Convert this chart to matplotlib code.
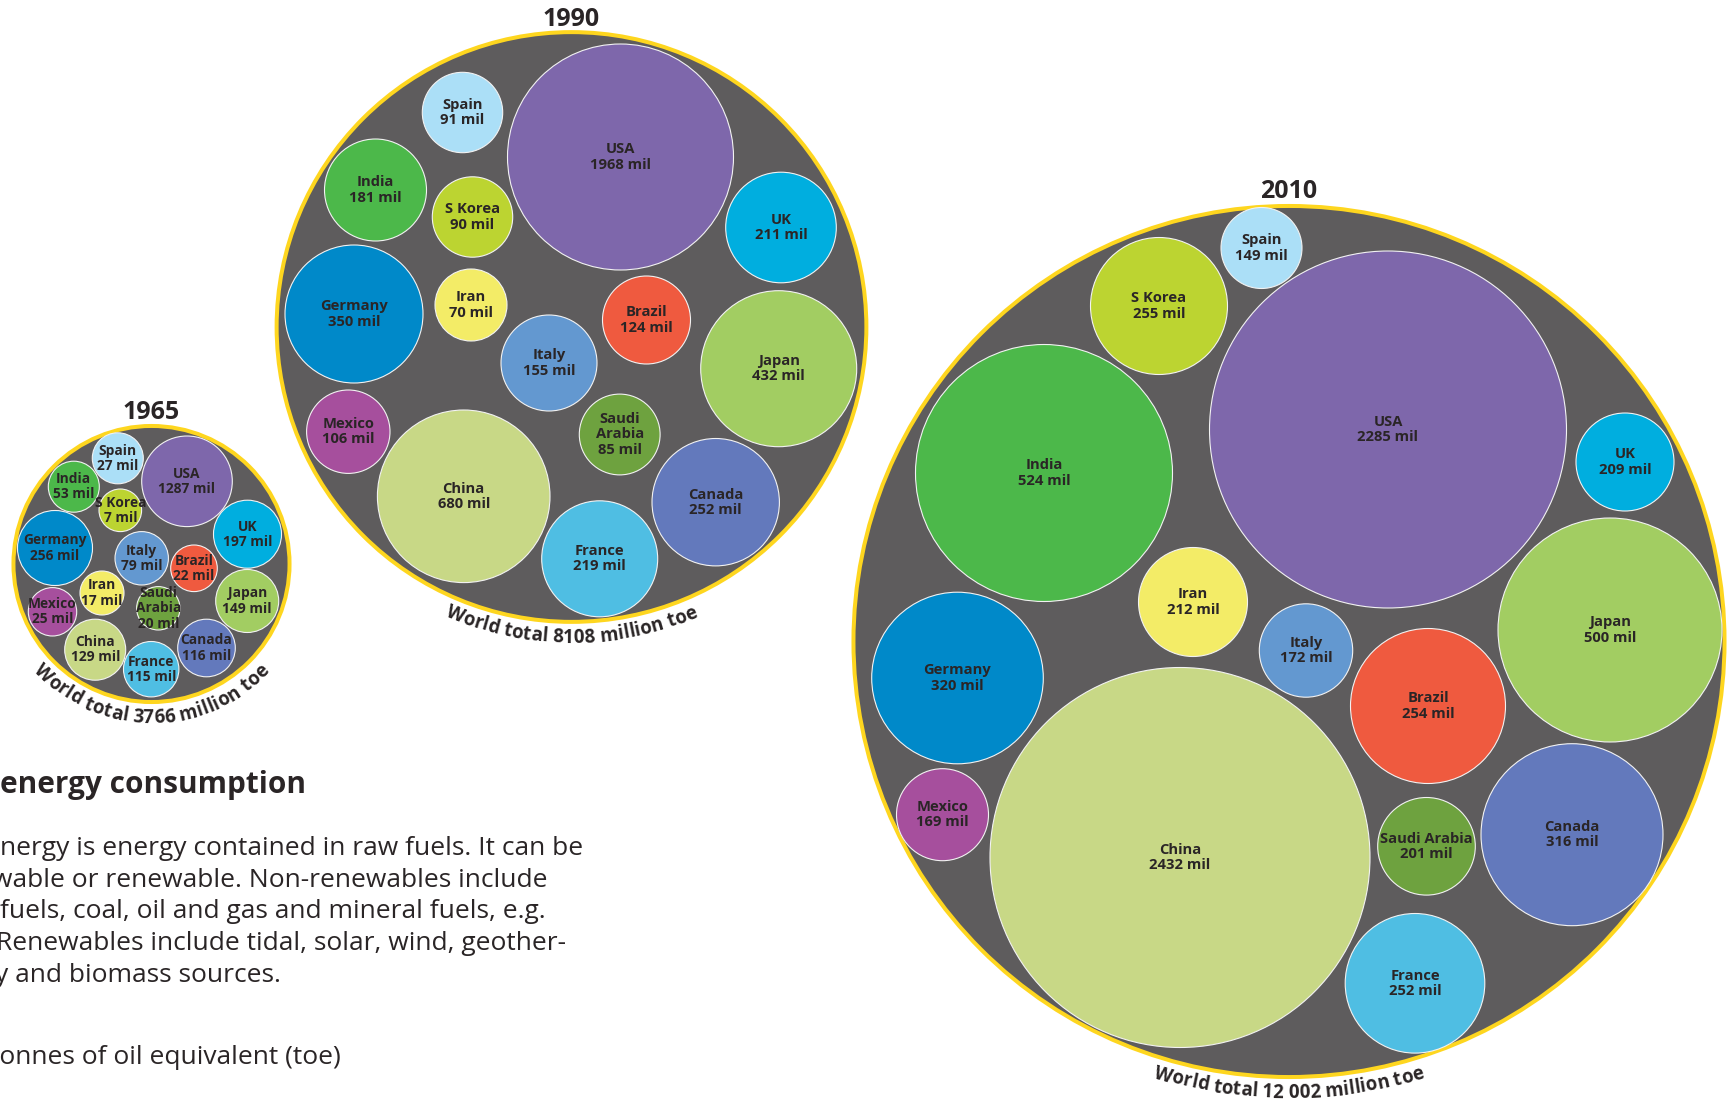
import numpy as np
import matplotlib
matplotlib.use("Agg")
import matplotlib.pyplot as plt
from matplotlib.patches import Circle
from matplotlib.font_manager import FontProperties
from matplotlib.textpath import text_to_path

# ---------------- data ----------------
countries = ["USA", "China", "India", "Japan", "Germany", "Canada", "France",
             "Brazil", "S Korea", "Iran", "UK", "Saudi Arabia", "Italy",
             "Mexico", "Spain"]
values_1965 = [1287, 129, 53, 149, 256, 116, 115, 22, 7, 17, 197, 20, 79, 25, 27]
values_1990 = [1968, 680, 181, 432, 350, 252, 219, 124, 90, 70, 211, 85, 155, 106, 91]
values_2010 = [2285, 2432, 524, 500, 320, 316, 252, 254, 255, 212, 209, 201, 172, 169, 149]
years = ["1965", "1990", "2010"]
world_totals = [3766, 8108, 12002]

title_text = "energy consumption"
body_lines = ["nergy is energy contained in raw fuels. It can be",
              "wable or renewable. Non-renewables include",
              "fuels, coal, oil and gas and mineral fuels, e.g.",
              "Renewables include tidal, solar, wind, geother-",
              "y and biomass sources."]
unit_line = "tonnes of oil equivalent (toe)"

# ---------------- styles ----------------
colors = {"USA": "#7e67ab", "China": "#c8d886", "India": "#4cb84a",
          "Japan": "#a2cd62", "Germany": "#0089c9", "Canada": "#6379bc",
          "France": "#4fbee3", "Brazil": "#ef5a3f", "S Korea": "#bcd431",
          "Iran": "#f3ec67", "UK": "#00aedf", "Saudi Arabia": "#6ea23f",
          "Italy": "#6398d0", "Mexico": "#a64f9d", "Spain": "#abdff7"}
GREY = "#5e5c5d"
YELLOW = "#fed61f"
TXT = "#2a2526"
FAMILY = ["Open Sans", "DejaVu Sans"]

W, H, DPI = 1727, 1102, 100
PX_PER_MTOE = 0.036122         # grey disc radius scale (px per million toe)
RING_PX = 4.0                  # yellow ring drawn outside the grey disc

# ---------------- layout (pixel positions of bubbles) ----------------
anchors = {"1965": (151.5, 564.0), "1990": (571.5, 327.0), "2010": (1289.0, 641.5)}
year_gap = {"1965": 5, "1990": 4, "2010": 6}
label_size = {"1965": 9.9, "1990": 10.6, "2010": 10.6}
wrap_names = {"1965": ["Saudi Arabia"], "1990": ["Saudi Arabia"], "2010": []}
layout = {
    "1965": {"Spain": (117.8, 458.3, 25.5), "India": (73.8, 486.7, 25.5),
             "USA": (187.0, 481.3, 45.3), "S Korea": (120.3, 510.3, 21.3),
             "UK": (247.5, 534.2, 34.0), "Germany": (55.0, 548.0, 37.5),
             "Italy": (141.7, 558.3, 26.7), "Brazil": (194.0, 568.3, 23.3),
             "Japan": (247.2, 601.0, 31.5), "Iran": (102.0, 593.0, 22.0),
             "Saudi Arabia": (158.3, 608.3, 21.7), "Mexico": (52.5, 611.8, 24.2),
             "China": (95.2, 649.7, 30.5), "Canada": (206.5, 648.0, 28.8),
             "France": (151.2, 669.2, 27.7)},
    "1990": {"Spain": (462.5, 112.5, 40.2), "India": (375.5, 190.0, 51.0),
             "S Korea": (472.5, 217.0, 40.2), "USA": (620.5, 157.0, 113.0),
             "UK": (781.0, 227.5, 55.3), "Germany": (354.0, 314.0, 69.0),
             "Iran": (471.0, 305.0, 36.0), "Brazil": (646.5, 320.0, 44.0),
             "Italy": (549.0, 363.0, 48.0), "Japan": (778.7, 368.7, 78.0),
             "Mexico": (348.3, 431.7, 41.7), "China": (463.7, 496.3, 86.3),
             "Saudi Arabia": (619.7, 434.5, 40.4), "Canada": (715.7, 502.2, 63.7),
             "France": (599.7, 558.8, 58.0)},
    "2010": {"Spain": (1261.5, 248.0, 40.5), "S Korea": (1159.0, 306.0, 68.5),
             "India": (1044.0, 473.0, 128.5), "USA": (1388.0, 429.5, 178.5),
             "UK": (1625.0, 462.0, 49.0), "Japan": (1610.0, 630.0, 112.0),
             "Iran": (1193.0, 602.0, 54.5), "Italy": (1306.0, 650.5, 46.7),
             "Brazil": (1428.0, 706.0, 77.5), "Germany": (957.5, 678.0, 85.8),
             "China": (1180.0, 857.5, 190.0), "Mexico": (942.5, 814.7, 46.0),
             "Saudi Arabia": (1426.5, 846.3, 48.8), "Canada": (1572.0, 834.7, 91.0),
             "France": (1415.0, 983.3, 69.8)},
}

# text block layout: left edge px, baseline px (first line's right edge sets size)
title_pos = (0, 793)
title_right = 305
body_left = [0, -8, 0, -4, -5]
body_base = [855, 887, 918, 950, 982]
body_right = 584
unit_pos = (-10, 1064)

# ---------------- helpers ----------------
def text_px_width(s, fp):
    w, _, _ = text_to_path.get_text_width_height_descent(s, fp, ismath=False)
    return w * DPI / 72.0


def advance_px(s, fp):
    return text_px_width("l" + s + "l", fp) - text_px_width("ll", fp)


def arc_text(ax, s, cx, cy, r_base, fp, color):
    r_s = r_base - 0.3 * fp.get_size_in_points() * DPI / 72.0
    pref = [advance_px(s[:i], fp) for i in range(len(s) + 1)]
    L = pref[-1]
    for i, ch in enumerate(s):
        if ch == " ":
            continue
        mid = 0.5 * (pref[i] + pref[i + 1])
        theta = np.pi / 2 + (L / 2 - mid) / r_s
        x = cx + r_base * np.cos(theta)
        y = cy + r_base * np.sin(theta)
        ax.text(x, y, ch, rotation=90 - np.degrees(theta), rotation_mode="anchor",
                ha="center", va="baseline", fontproperties=fp, color=color)


def fmt_total(t):
    return f"{t:,}".replace(",", " ") if t >= 10000 else str(t)


# ---------------- figure ----------------
fig = plt.figure(figsize=(W / DPI, H / DPI), dpi=DPI)
ax = fig.add_axes([0, 0, 1, 1])
ax.set_xlim(0, W)
ax.set_ylim(H, 0)
ax.set_aspect("equal")
ax.axis("off")

values_by_year = dict(zip(years, [values_1965, values_1990, values_2010]))
total_fp = FontProperties(family=FAMILY, weight="bold", size=13.4)

for year, total in zip(years, world_totals):
    cx, cy = anchors[year]
    r_disc = total * PX_PER_MTOE
    R = r_disc + RING_PX
    ax.add_patch(Circle((cx, cy), r_disc + RING_PX / 2, facecolor=GREY,
                        edgecolor=YELLOW, linewidth=RING_PX * 72 / DPI, zorder=1))
    for name, val in zip(countries, values_by_year[year]):
        x, y, r = layout[year][name]
        ax.add_patch(Circle((x, y), r, facecolor=colors[name], edgecolor="#f2f2f2",
                            linewidth=0.8, zorder=2))
        lab_name = name.replace(" ", "\n") if name in wrap_names[year] else name
        ax.text(x, y, f"{lab_name}\n{val} mil", ha="center", va="center",
                multialignment="center", linespacing=1.12,
                family=FAMILY, weight="bold", fontsize=label_size[year],
                color=TXT, zorder=3)
    ax.text(cx, cy - R - year_gap[year], year, ha="center", va="baseline",
            family=FAMILY, weight="bold", fontsize=18, color=TXT)
    arc_text(ax, f"World total {fmt_total(total)} million toe", cx, cy, R + 19,
             total_fp, TXT)

# ---------------- text block ----------------
title_fp = FontProperties(family=FAMILY, weight="bold", size=1)
title_size = (title_right - title_pos[0]) / text_px_width(title_text, title_fp)
body_fp = FontProperties(family=FAMILY, size=1)
body_size = (body_right - body_left[0]) / text_px_width(body_lines[0], body_fp)

ax.text(title_pos[0], title_pos[1], title_text, ha="left", va="baseline",
        family=FAMILY, weight="bold", fontsize=title_size, color=TXT)
for xl, yb, line in zip(body_left, body_base, body_lines):
    ax.text(xl, yb, line, ha="left", va="baseline", family=FAMILY,
            fontsize=body_size, color=TXT)
ax.text(unit_pos[0], unit_pos[1], unit_line, ha="left", va="baseline",
        family=FAMILY, fontsize=body_size, color=TXT)

fig.savefig("out.png", dpi=DPI, facecolor="white")
